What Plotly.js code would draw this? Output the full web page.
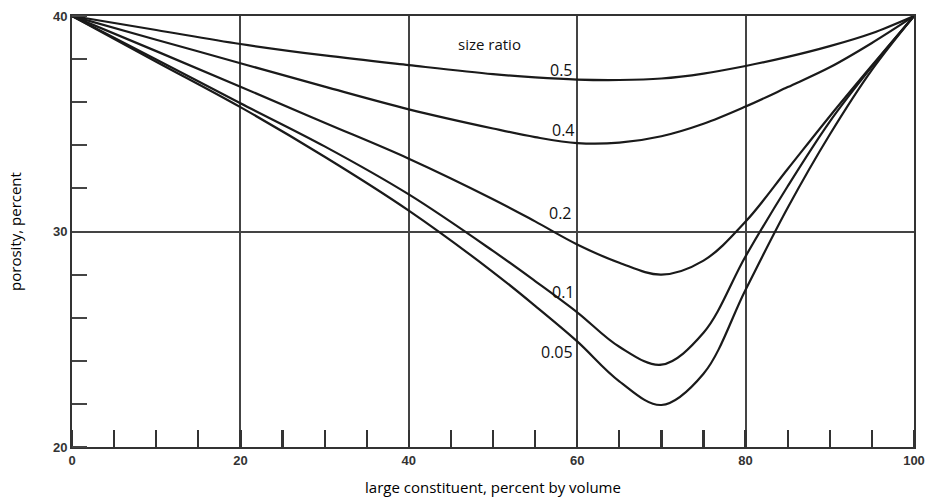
<!DOCTYPE html>
<html>
<head>
<meta charset="utf-8">
<script src="https://cdn.plot.ly/plotly-3.0.1.min.js"></script>
<style>html,body{margin:0;padding:0;background:#fff;}#chart{width:931px;height:501px;}</style>
</head>
<body>
<div id="chart"></div>
<script>
// Data
const xVals = [0, 10, 20, 30, 40, 50, 55, 60, 65, 70, 75, 80, 85, 90, 95, 100];
const r050 = [40, 39.35, 38.70, 38.17, 37.72, 37.30, 37.15, 37.05, 37.03, 37.10, 37.33, 37.68, 38.10, 38.60, 39.20, 40];
const r040 = [40, 38.90, 37.81, 36.72, 35.67, 34.78, 34.38, 34.10, 34.12, 34.42, 35.00, 35.80, 36.70, 37.62, 38.75, 40];
const r020 = [40, 38.37, 36.72, 35.05, 33.38, 31.50, 30.47, 29.40, 28.55, 28.00, 28.65, 30.46, 32.90, 35.35, 37.70, 40];
const r010 = [40, 37.98, 35.95, 33.95, 31.72, 29.10, 27.70, 26.25, 24.65, 23.82, 25.30, 28.85, 32.10, 35.10, 37.65, 40];
const r005 = [40, 37.88, 35.77, 33.47, 30.97, 28.12, 26.55, 24.90, 23.05, 21.95, 23.40, 27.30, 31.10, 34.50, 37.50, 40];
const seriesNames = ["0.5", "0.4", "0.2", "0.1", "0.05"];
const seriesVals = [r050, r040, r020, r010, r005];
const xTickVals = [0, 20, 40, 60, 80, 100];
const xTickText = ["0", "20", "40", "60", "80", "100"];
const yTickVals = [20, 30, 40];
const yTickText = ["20", "30", "40"];
// Label anchors (data coordinates)
const labelX = [58.1, 58.4, 58.0, 58.4, 57.6];
const labelY = [37.5, 34.72, 30.88, 27.18, 24.4];

const traces = seriesVals.map((v, i) => ({
  x: xVals, y: v, type: 'scatter', mode: 'lines', name: seriesNames[i],
  line: {color: '#1a1a1a', width: 2.2, shape: 'spline', smoothing: 1.0},
  hoverinfo: 'skip'
}));

const labelFont = {family: 'Open Sans, Noto Sans, sans-serif', size: 16, color: '#111'};
const annotations = seriesNames.map((n, i) => ({
  x: labelX[i], y: labelY[i], xref: 'x', yref: 'y', text: n, showarrow: false,
  xanchor: 'center', yanchor: 'middle', font: labelFont
}));
annotations.push({x: 49.6, y: 38.7, xref: 'x', yref: 'y', text: 'size ratio', showarrow: false,
  xanchor: 'center', yanchor: 'middle', font: {family: 'Open Sans, Noto Sans, sans-serif', size: 15, color: '#111'}});

const tickFont = {family: 'Liberation Sans, Arial, sans-serif', size: 13, color: '#333', weight: 'bold'};
const titleFont = {family: 'Open Sans, Noto Sans, sans-serif', size: 15, color: '#000'};

const layout = {
  width: 931, height: 501,
  margin: {l: 72, r: 17, t: 16, b: 54},
  paper_bgcolor: '#fff', plot_bgcolor: '#fff',
  showlegend: false,
  xaxis: {
    range: [0, 100], tickmode: 'array', tickvals: xTickVals, ticktext: xTickText,
    ticks: '', showgrid: true, gridcolor: '#444', gridwidth: 2,
    showline: true, mirror: true, linecolor: '#333', linewidth: 2,
    zeroline: false, tickfont: tickFont,
    minor: {dtick: 5, tick0: 0, ticks: 'inside', ticklen: 17, tickwidth: 2.2, tickcolor: '#333', showgrid: false},
    title: {text: 'large constituent, percent by volume', standoff: 16, font: titleFont}
  },
  yaxis: {
    range: [20, 40], tickmode: 'array', tickvals: yTickVals, ticktext: yTickText,
    ticks: '', showgrid: true, gridcolor: '#444', gridwidth: 2,
    showline: true, mirror: true, linecolor: '#333', linewidth: 2,
    zeroline: false, tickfont: tickFont,
    minor: {dtick: 2, tick0: 20, ticks: 'inside', ticklen: 15, tickwidth: 2, tickcolor: '#444', showgrid: false},
    title: {text: 'porosity, percent', standoff: 28, font: titleFont}
  },
  annotations: annotations
};

Plotly.newPlot('chart', traces, layout, {displayModeBar: false, staticPlot: true});
</script>
</body>
</html>
